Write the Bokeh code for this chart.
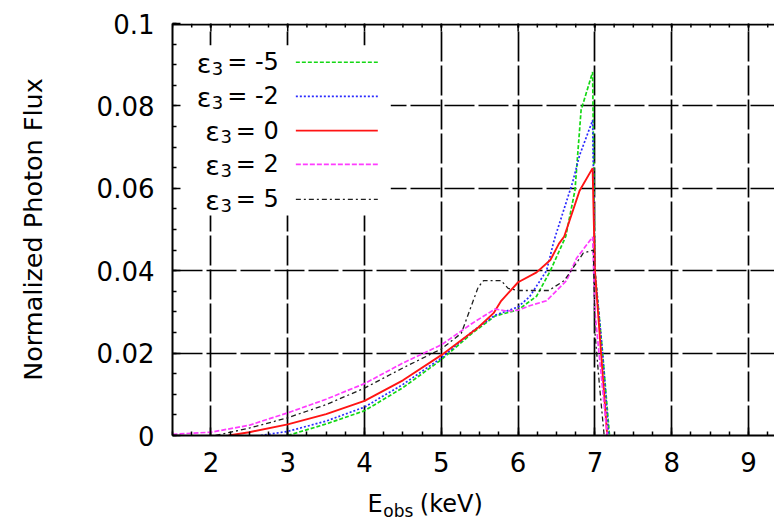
from bokeh.plotting import figure
from bokeh.layouts import column
from bokeh.models import (FixedTicker, LinearAxis, Range1d, BoxAnnotation, Label,
                          PrintfTickFormatter, Span)
from bokeh.core.properties import value
from bokeh.embed import file_html
from bokeh.resources import INLINE

# ---------------- data ----------------
eps_values = ["-5", "-2", "0", "2", "5"]
line_colors = ["#14d814", "#2a2aff", "#ff1414", "#ff3cff", "#1e1e1e"]
line_dashes = ["4 2", "2 2", "solid", "5 2", "5 3 2 3"]
line_widths = [1.7, 1.7, 1.9, 1.7, 1.3]

e_m5 = [3.0, 3.5, 4.0, 4.5, 5.0, 5.4, 5.7, 6.0, 6.24, 6.42, 6.62, 6.74, 6.82, 6.97, 7.0, 7.1, 7.19]
f_m5 = [0.0, 0.0028, 0.006, 0.0116, 0.0184, 0.0248, 0.029, 0.0305, 0.0338, 0.040, 0.0483, 0.0595, 0.079, 0.0882, 0.040, 0.020, 0.0]

e_m2 = [2.65, 3.0, 3.5, 4.0, 4.5, 5.0, 5.4, 5.7, 6.0, 6.15, 6.37, 6.47, 6.71, 6.8, 6.97, 7.0, 7.1, 7.18]
f_m2 = [0.0, 0.001, 0.0035, 0.0069, 0.0124, 0.0188, 0.0252, 0.0292, 0.0312, 0.0337, 0.040, 0.0475, 0.0615, 0.068, 0.0765, 0.040, 0.020, 0.0]

e_0 = [2.23, 2.5, 3.0, 3.5, 4.0, 4.5, 5.0, 5.48, 5.68, 5.78, 6.0, 6.24, 6.42, 6.53, 6.6, 6.8, 6.97, 7.0, 7.08, 7.16]
f_0 = [0.0, 0.0008, 0.0027, 0.0052, 0.0084, 0.0134, 0.0195, 0.0262, 0.0297, 0.0327, 0.0372, 0.0396, 0.0426, 0.0465, 0.0483, 0.0594, 0.0649, 0.040, 0.020, 0.0]

e_2 = [1.5, 2.0, 2.5, 3.0, 3.5, 4.0, 4.5, 5.0, 5.4, 5.7, 5.85, 6.0, 6.15, 6.37, 6.63, 6.76, 6.97, 7.0, 7.08, 7.16]
f_2 = [0.0003, 0.0008, 0.0025, 0.0055, 0.0088, 0.0126, 0.0176, 0.022, 0.0272, 0.0307, 0.0302, 0.0304, 0.0315, 0.0327, 0.0376, 0.043, 0.0482, 0.030, 0.015, 0.0]

e_5 = [2.06, 2.5, 3.0, 3.5, 4.0, 4.5, 5.0, 5.26, 5.48, 5.55, 5.78, 5.87, 6.0, 6.4, 6.6, 6.85, 6.98, 7.0, 7.06, 7.12]
f_5 = [0.0, 0.0018, 0.0043, 0.0075, 0.0115, 0.0164, 0.021, 0.0248, 0.036, 0.0376, 0.0376, 0.0357, 0.0352, 0.0352, 0.0376, 0.0443, 0.045, 0.025, 0.012, 0.0]

series_e = [e_m5, e_m2, e_0, e_2, e_5]
series_f = [f_m5, f_m2, f_0, f_2, f_5]

x_major = [2, 3, 4, 5, 6, 7, 8, 9]
x_minor = [1.5 + 0.25 * i for i in range(32)]
y_major = [0, 0.02, 0.04, 0.06, 0.08, 0.1]
y_minor = [0.005 * i for i in range(21)]

x_title_main = "E"
x_title_sub = "obs"
x_title_unit = "(keV)"
y_title = "Normalized Photon Flux"

# ---------------- layout ----------------
W = 774
H_MAIN = 485
H_TITLE = 40
LEFT, TOP, BOTTOM = 172, 23, 50
X0, X1 = 1.5, 9.338
Y0, Y1 = 0.0, 0.1
FONT = "DejaVu Sans"
TICK_FS = 26
px_per_y = (H_MAIN - TOP - BOTTOM) / (Y1 - Y0)

p = figure(width=W, height=H_MAIN, output_backend="svg", toolbar_location=None,
           x_range=Range1d(X0, X1), y_range=Range1d(Y0, Y1),
           min_border_left=LEFT, min_border_right=0, min_border_top=TOP,
           min_border_bottom=BOTTOM, x_axis_location=None, y_axis_location=None)
p.outline_line_color = None
p.background_fill_color = "white"
p.border_fill_color = "white"

xt = FixedTicker(ticks=x_major, minor_ticks=x_minor)
yt = FixedTicker(ticks=y_major, minor_ticks=y_minor)


def style_axis(ax):
    ax.axis_line_color = "black"
    ax.axis_line_width = 2
    ax.major_tick_line_color = "black"
    ax.major_tick_line_width = 1.5
    ax.minor_tick_line_color = "black"
    ax.minor_tick_line_width = 1.5
    ax.major_tick_in = 8
    ax.major_tick_out = 0
    ax.minor_tick_in = 4
    ax.minor_tick_out = 0
    ax.major_label_text_font = FONT
    ax.major_label_text_color = "black"
    ax.major_label_text_font_size = f"{TICK_FS}px"


xaxis = LinearAxis(ticker=xt, formatter=PrintfTickFormatter(format="%g"))
style_axis(xaxis)
xaxis.major_label_standoff = 16
p.add_layout(xaxis, "below")

yaxis = LinearAxis(ticker=yt, formatter=PrintfTickFormatter(format="%g"))
style_axis(yaxis)
yaxis.major_label_standoff = 18
yaxis.axis_label = y_title
yaxis.axis_label_text_font = FONT
yaxis.axis_label_text_font_size = "25.5px"
yaxis.axis_label_text_font_style = "normal"
yaxis.axis_label_text_color = "black"
yaxis.axis_label_standoff = 46
p.add_layout(yaxis, "left")

p.xgrid.ticker = xt
p.ygrid.ticker = yt
for g in (p.xgrid, p.ygrid):
    g.grid_line_color = "black"
    g.grid_line_width = 1.7
    g.grid_line_dash = "30 4"
    g.grid_line_alpha = 1.0

# top border and inward ticks along the top edge
p.add_layout(Span(location=Y1 - 1.0 / px_per_y, dimension="width",
                  line_color="black", line_width=2))
p.segment(x0=x_major, x1=x_major, y0=[Y1] * len(x_major),
          y1=[Y1 - 8 / px_per_y] * len(x_major), line_color="black", line_width=1.5)
p.segment(x0=x_minor, x1=x_minor, y0=[Y1] * len(x_minor),
          y1=[Y1 - 4 / px_per_y] * len(x_minor), line_color="black", line_width=1.5)

# legend background (covers grid, below axes and data)
p.add_layout(BoxAnnotation(left=X0, right=4.342, bottom=0.0534, top=0.0947,
                           fill_color="white", fill_alpha=1.0, line_color=None,
                           level="underlay"))

# curves
for e, f, c, d, w in zip(series_e, series_f, line_colors, line_dashes, line_widths):
    p.line(e, f, line_color=c, line_dash=d, line_width=w)

# ---------------- legend (label on the left, sample on the right) ----------------
leg_rows_y = [0.0906, 0.0823, 0.0740, 0.0658, 0.0573]
leg_text_x = 2.885
leg_line_x = [3.106, 4.173]
LEG_FS = 24
SUB_FS = 18
adv = {"=": 0.838, " ": 0.318, "-": 0.361, "ε": 0.56}
for ch in "0123456789":
    adv[ch] = 0.636

for lab, yv, c, d, w in zip(eps_values, leg_rows_y, line_colors, line_dashes, line_widths):
    main = "= " + lab
    wmain = sum(adv[ch] for ch in main) * LEG_FS
    w3 = adv["3"] * SUB_FS
    p.add_layout(Label(x=leg_text_x, y=yv, text=main, text_align="right",
                       text_baseline="middle", text_font=FONT,
                       text_font_size=f"{LEG_FS}px", text_color="black"))
    p.add_layout(Label(x=leg_text_x, y=yv - 6 / px_per_y, x_offset=-(wmain + 4),
                       text="3", text_align="right", text_baseline="middle",
                       text_font=FONT, text_font_size=f"{SUB_FS}px", text_color="black"))
    p.add_layout(Label(x=leg_text_x, y=yv - 1 / px_per_y, x_offset=-(wmain + 4 + w3 + 0.5),
                       text="ε", text_align="right", text_baseline="middle",
                       text_font=FONT, text_font_size=f"{LEG_FS + 3}px", text_color="black"))
    p.line(leg_line_x, [yv, yv], line_color=c, line_dash=d, line_width=w)

# ---------------- x-axis title with subscript (separate strip below) ----------------
p2 = figure(width=W, height=H_TITLE, output_backend="svg", toolbar_location=None,
            x_range=p.x_range, y_range=Range1d(0, H_TITLE),
            min_border_left=LEFT, min_border_right=0, min_border_top=0,
            min_border_bottom=0, x_axis_location=None, y_axis_location=None)
p2.outline_line_color = None
p2.xgrid.visible = False
p2.ygrid.visible = False
p2.background_fill_color = "white"
p2.border_fill_color = "white"

XT_FS = 24
XS_FS = 17
x_title_x = 4.04
wE = 0.632 * XT_FS
wobs = (0.612 + 0.635 + 0.521) * XS_FS
base = 22  # baseline height of the main title text inside the strip

p2.text(x=[x_title_x], y=[base], text=[x_title_main], text_align="left",
        text_baseline="alphabetic", text_font=value(FONT),
        text_font_size=value(f"{XT_FS}px"), text_color="black")
p2.text(x=[x_title_x], y=[base - 7], x_offset=wE + 0.5, text=[x_title_sub],
        text_align="left", text_baseline="alphabetic", text_font=value(FONT),
        text_font_size=value(f"{XS_FS}px"), text_color="black")
p2.text(x=[x_title_x], y=[base], x_offset=wE + wobs + 7, text=[x_title_unit],
        text_align="left", text_baseline="alphabetic", text_font=value(FONT),
        text_font_size=value(f"{XT_FS}px"), text_color="black")

layout = column(p, p2, spacing=0)
open("out.html", "w").write(file_html(layout, INLINE))
